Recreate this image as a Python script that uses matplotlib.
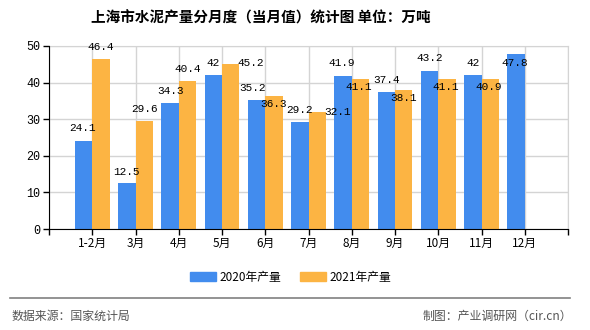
import numpy as np
import matplotlib
matplotlib.use("Agg")
from matplotlib import pyplot as plt
from matplotlib.patches import Patch

plt.rcParams['font.family'] = ['Noto Sans CJK SC', 'DejaVu Sans']

months = ['1-2月', '3月', '4月', '5月', '6月', '7月', '8月', '9月', '10月', '11月', '12月']
output_2020 = [24.1, 12.5, 34.3, 42, 35.2, 29.2, 41.9, 37.4, 43.2, 42, 47.8]
output_2021 = [46.4, 29.6, 40.4, 45.2, 36.3, 32.1, 41.1, 38.1, 41.1, 40.9, None]

# value label nudges (pixels) to mimic the original's overlap handling
off_2020 = [(-1, 13), (0, 11), (0, 12), (0, 12), (-4, 12), (0, 12), (-1, 13), (0, 12), (0, 13), (0, 12), (-1, -9)]
off_2021 = [(0, 12), (0, 12), (0, 12), (20, 1), (0, -8), (20, 0), (-2, -8), (0, -8), (-1, -8), (-1, -8), (0, 0)]

BLUE = "#428CEE"
ORANGE = "#FCB443"

fig = plt.figure(figsize=(5.9, 3.3), dpi=100)
ax = fig.add_axes([49 / 590, 101 / 330, 519 / 590, 183 / 330])

x = np.arange(len(months))
w = 0.4
for i, v in enumerate(output_2020):
    ax.bar(x[i] - w / 2, v, w, color=BLUE, zorder=3)
    ax.annotate(str(v), (x[i] - w / 2, v), xytext=off_2020[i], textcoords='offset pixels',
                ha='center', va='center', fontsize=8, family=['Liberation Mono'], zorder=5)
for i, v in enumerate(output_2021):
    if v is None:
        continue
    ax.bar(x[i] + w / 2, v, w, color=ORANGE, zorder=3)
    ax.annotate(str(v), (x[i] + w / 2, v), xytext=off_2021[i], textcoords='offset pixels',
                ha='center', va='center', fontsize=8, family=['Liberation Mono'], zorder=5)

ax.set_xlim(-1, len(months))
ax.set_ylim(0, 50)
ax.set_xticks(np.arange(-1, len(months) + 1))
ax.set_xticklabels([''] + months + [''], fontsize=8.5)
ax.set_yticks(np.arange(0, 51, 10))
ax.set_yticklabels([str(t) for t in range(0, 51, 10)], fontsize=8.5, family=['Liberation Mono'])
ax.tick_params(axis='both', length=4, width=1, color='black', pad=2)
ax.grid(True, color='#d4d4d4', linewidth=1, zorder=0)
for s in ['top', 'right']:
    ax.spines[s].set_color('#d4d4d4')
for s in ['left', 'bottom']:
    ax.spines[s].set_color('black')
    ax.spines[s].set_zorder(4)

fig.text(261 / 590, 1 - 18 / 330, '上海市水泥产量分月度（当月值）统计图 单位：万吨',
         ha='center', va='center', fontsize=10.5, fontweight='bold')

handles = [Patch(color=BLUE, label='2020年产量'), Patch(color=ORANGE, label='2021年产量')]
fig.legend(handles=handles, loc='center', bbox_to_anchor=(291 / 590, 1 - 277 / 330), ncol=2,
           frameon=False, fontsize=8.5, handlelength=2.2, handleheight=0.7,
           handletextpad=0.3, columnspacing=1.6)

fig.add_artist(plt.Line2D([10 / 590, 570 / 590], [1 - 298 / 330] * 2, color='#808080', linewidth=1.2))
fig.text(12 / 590, 1 - 316 / 330, '数据来源：国家统计局', ha='left', va='center', fontsize=8.6, color='#555555')
fig.text(572 / 590, 1 - 316 / 330, '制图：产业调研网（cir.cn）', ha='right', va='center', fontsize=8.6, color='#555555')

fig.savefig('out.png', dpi=100)
